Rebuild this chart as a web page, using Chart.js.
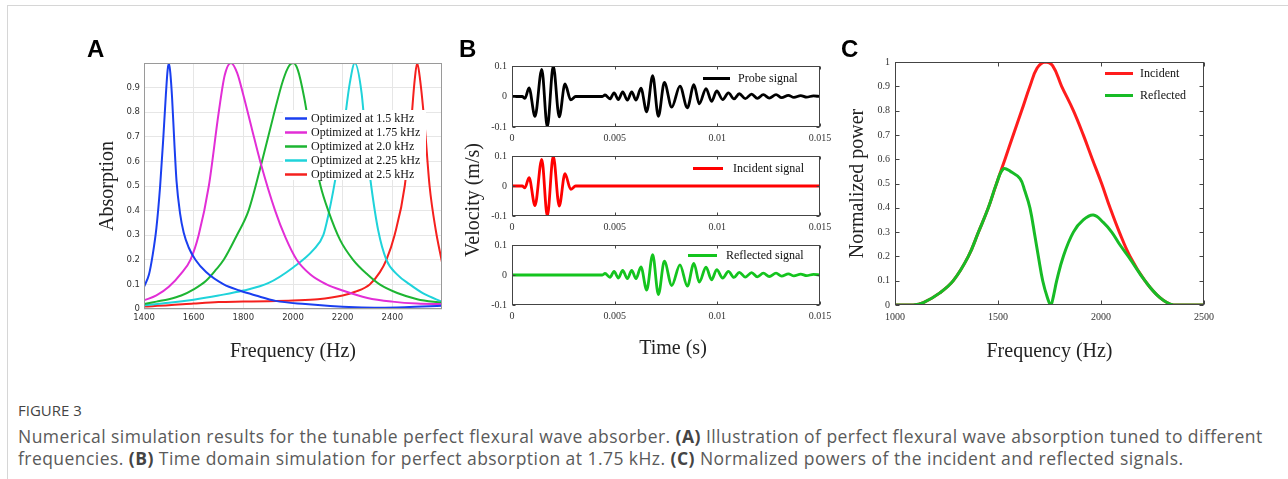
<!DOCTYPE html>
<html>
<head>
<meta charset="utf-8">
<script src="https://cdn.jsdelivr.net/npm/chart.js@4.4.0/dist/chart.umd.min.js"></script>
<style>
  html, body { margin: 0; padding: 0; background: #fff; }
  body { width: 1288px; height: 479px; position: relative; overflow: hidden; }
  .frame { position: absolute; left: 7px; top: 5px; right: 0; bottom: 0; border-top: 1px solid #d6d6d6; border-left: 1px solid #d6d6d6; }
  canvas { position: absolute; }
  .panel { position: absolute; font: bold 24px "Liberation Sans", Arial, sans-serif; line-height: 24px; color: #000; z-index: 2; }
  .axt { position: absolute; font: 20px "Liberation Serif", "Times New Roman", serif; color: #222; white-space: nowrap; line-height: 20px; }
  .figno { position: absolute; left: 18px; top: 399px; font: 15px "Open Sans", sans-serif; line-height: 22px; color: #444; }
  .cap { position: absolute; left: 18px; top: 425px; font: 17.5px "Open Sans", sans-serif; letter-spacing: 0.45px; line-height: 22px; color: #5a5a5a; white-space: nowrap; }
  .cap b { color: #444; }
</style>
</head>
<body>
<div class="frame"></div>

<canvas id="chartA" width="380" height="330" style="left:80px;top:40px"></canvas>
<canvas id="chartB1" width="365" height="98" style="left:475px;top:55px"></canvas>
<canvas id="chartB2" width="365" height="97" style="left:475px;top:145px"></canvas>
<canvas id="chartB3" width="365" height="97" style="left:475px;top:234px"></canvas>
<canvas id="chartC" width="390" height="330" style="left:840px;top:40px"></canvas>

<div class="panel" style="left:87px;top:37px">A</div>
<div class="panel" style="left:459px;top:37px">B</div>
<div class="panel" style="left:841px;top:37px">C</div>

<div class="axt" style="left:412px;top:190px;transform:rotate(-90deg);transform-origin:60px 10px;width:120px;text-align:center">Velocity (m/s)</div>
<div class="axt" style="left:623px;top:337px;width:100px;text-align:center">Time (s)</div>

<div class="figno">FIGURE 3</div>
<div class="cap">Numerical simulation results for the tunable perfect flexural wave absorber. <b>(A)</b> Illustration of perfect flexural wave absorption tuned to different<br>frequencies. <b>(B)</b> Time domain simulation for perfect absorption at 1.75 kHz. <b>(C)</b> Normalized powers of the incident and reflected signals.</div>

<script>
// ---- Panel A : absorption vs frequency ----
const ticksAx = [1400, 1600, 1800, 2000, 2200, 2400];
const ticksAy = [0, 0.1, 0.2, 0.3, 0.4, 0.5, 0.6, 0.7, 0.8, 0.9];
const labelsA = ["Optimized at 1.5 kHz", "Optimized at 1.75 kHz", "Optimized at 2.0 kHz", "Optimized at 2.25 kHz", "Optimized at 2.5 kHz"];

const freqA1 = [1400, 1420, 1435, 1450, 1465, 1478, 1488, 1495, 1500, 1506, 1513, 1522, 1531, 1545, 1560, 1580, 1607, 1650, 1721, 1785, 1850, 1930, 2050, 2150, 2250, 2350, 2450, 2600];
const absA1 = [0.09, 0.14, 0.22, 0.33, 0.5, 0.7, 0.87, 0.97, 1.0, 0.96, 0.86, 0.68, 0.52, 0.39, 0.31, 0.25, 0.2, 0.15, 0.1, 0.075, 0.055, 0.033, 0.02, 0.012, 0.007, 0.005, 0.007, 0.013];

const freqA2 = [1400, 1450, 1500, 1550, 1587, 1620, 1661, 1701, 1725, 1750, 1775, 1800, 1835, 1868, 1928, 1970, 2015, 2070, 2135, 2200, 2300, 2400, 2500, 2600];
const absA2 = [0.035, 0.055, 0.09, 0.145, 0.2, 0.3, 0.5, 0.8, 0.95, 1.0, 0.96, 0.87, 0.73, 0.6, 0.4, 0.29, 0.2, 0.14, 0.1, 0.075, 0.045, 0.03, 0.022, 0.02];

const freqA3 = [1400, 1450, 1500, 1550, 1600, 1650, 1690, 1721, 1774, 1821, 1875, 1920, 1960, 1985, 2002, 2020, 2045, 2075, 2111, 2142, 2190, 2242, 2300, 2349, 2420, 2500, 2600];
const absA3 = [0.02, 0.03, 0.04, 0.055, 0.08, 0.115, 0.16, 0.2, 0.3, 0.4, 0.6, 0.78, 0.93, 0.99, 1.0, 0.97, 0.86, 0.68, 0.5, 0.4, 0.28, 0.2, 0.14, 0.1, 0.065, 0.04, 0.025];

const freqA4 = [1400, 1500, 1600, 1700, 1800, 1900, 2002, 2082, 2122, 2142, 2162, 2202, 2229, 2249, 2276, 2296, 2315, 2343, 2376, 2420, 2470, 2530, 2600];
const absA4 = [0.015, 0.025, 0.038, 0.055, 0.075, 0.105, 0.17, 0.24, 0.3, 0.38, 0.48, 0.72, 0.92, 1.0, 0.88, 0.66, 0.5, 0.32, 0.2, 0.14, 0.1, 0.06, 0.03];

const freqA5 = [1400, 1500, 1600, 1700, 1800, 1900, 2000, 2100, 2200, 2250, 2309, 2350, 2376, 2409, 2450, 2475, 2490, 2500, 2512, 2530, 2550, 2575, 2600];
const absA5 = [0.01, 0.015, 0.022, 0.028, 0.03, 0.032, 0.035, 0.04, 0.055, 0.07, 0.1, 0.15, 0.2, 0.3, 0.5, 0.75, 0.93, 1.0, 0.93, 0.75, 0.5, 0.32, 0.19];

// ---- Panel B : time signals (extrema of the waveforms) ----
const ticksBx = [0, 0.005, 0.01, 0.015];
const ticksBy = [-0.1, 0, 0.1];
const pulseT = [0, 0.0005, 0.00063, 0.00083, 0.00112, 0.00145, 0.00172, 0.00201, 0.0023, 0.00258, 0.00286, 0.0031];
const pulseV = [0, 0, -0.006, 0.028, -0.065, 0.089, -0.1, 0.1, -0.067, 0.041, -0.011, 0];
const echoT = [0.0044, 0.00453, 0.00477, 0.00497, 0.00518, 0.00539, 0.00562, 0.00583, 0.00604, 0.00628, 0.00656, 0.00685, 0.00713, 0.00742, 0.00778, 0.00818, 0.00854, 0.00886, 0.00912, 0.00945, 0.00972, 0.00997, 0.01026, 0.01054, 0.01081, 0.01107, 0.01136, 0.01167, 0.01195, 0.01224, 0.01253, 0.01286, 0.01313, 0.01346, 0.01373, 0.01406, 0.01435, 0.01468, 0.015];
const echoV = [0, 0.005, -0.008, 0.012, -0.01, 0.015, -0.012, 0.015, -0.012, 0.027, -0.05, 0.068, -0.065, 0.046, -0.035, 0.034, -0.037, 0.039, -0.024, 0.026, -0.016, 0.018, -0.01, 0.012, -0.008, 0.009, -0.007, 0.008, -0.006, 0.006, -0.005, 0.006, -0.004, 0.004, -0.003, 0.003, -0.002, 0.002, 0];

// ---- Panel C : normalized power spectra ----
const ticksCx = [1000, 1500, 2000, 2500];
const ticksCy = [0, 0.1, 0.2, 0.3, 0.4, 0.5, 0.6, 0.7, 0.8, 0.9, 1];
const freqInc = [1000, 1089, 1138, 1218, 1283, 1356, 1405, 1453, 1493, 1534, 1574, 1615, 1655, 1690, 1728, 1765, 1809, 1866, 1914, 1958, 2003, 2044, 2089, 2141, 2213, 2286, 2351, 2500];
const powInc = [0, 0, 0.01, 0.05, 0.1, 0.2, 0.3, 0.4, 0.5, 0.6, 0.7, 0.8, 0.9, 0.975, 1.0, 0.985, 0.9, 0.8, 0.7, 0.6, 0.5, 0.4, 0.3, 0.2, 0.1, 0.03, 0, 0];
const freqRef = [1000, 1089, 1138, 1218, 1283, 1356, 1405, 1453, 1493, 1526, 1560, 1607, 1630, 1655, 1680, 1696, 1717, 1740, 1756, 1770, 1785, 1817, 1866, 1914, 1963, 2011, 2052, 2090, 2141, 2213, 2286, 2351, 2500];
const powRef = [0, 0, 0.01, 0.05, 0.1, 0.2, 0.3, 0.4, 0.5, 0.56, 0.55, 0.52, 0.47, 0.4, 0.28, 0.2, 0.1, 0.03, 0, 0.04, 0.1, 0.2, 0.3, 0.35, 0.37, 0.34, 0.3, 0.25, 0.19, 0.1, 0.03, 0, 0];

// helpers
const xy = (xs, ys) => xs.map((x, i) => ({ x: x, y: ys[i] }));
const fixTicks = vals => scale => { scale.ticks = vals.map(v => ({ value: v })); };
const num = v => String(+Number(v).toFixed(4));
const serif = '"Liberation Serif", "Times New Roman", serif';

// box + inward tick marks (matlab style axes)
const boxAxes = {
  id: "boxAxes",
  afterDatasetsDraw(chart, args, opts) {
    const { ctx, chartArea: a, scales } = chart;
    ctx.save();
    ctx.strokeStyle = opts.color || "#333";
    ctx.lineWidth = 1;
    const L = Math.round(a.left) + 0.5, T = Math.round(a.top) + 0.5;
    const R = Math.round(a.right) - 0.5, B = Math.round(a.bottom) - 0.5;
    ctx.strokeRect(L, T, R - L, B - T);
    const len = opts.tick || 0;
    if (len) {
      ctx.beginPath();
      scales.x.ticks.forEach(t => {
        const px = Math.round(scales.x.getPixelForValue(t.value)) + 0.5;
        ctx.moveTo(px, B); ctx.lineTo(px, B - len);
        ctx.moveTo(px, T); ctx.lineTo(px, T + len);
      });
      scales.y.ticks.forEach(t => {
        const py = Math.round(scales.y.getPixelForValue(t.value)) + 0.5;
        ctx.moveTo(L, py); ctx.lineTo(L + len, py);
        ctx.moveTo(R, py); ctx.lineTo(R - len, py);
      });
      ctx.stroke();
    }
    ctx.restore();
  }
};

// simple in-plot legend: line sample + label
const lineLegend = {
  id: "lineLegend",
  afterDatasetsDraw(chart, args, opts) {
    const { ctx, chartArea: a } = chart;
    ctx.save();
    if (opts.bg) {
      ctx.fillStyle = "#fff";
      ctx.fillRect(a.left + opts.bg[0], a.top + opts.bg[1], opts.bg[2], opts.bg[3]);
    }
    ctx.font = opts.font;
    ctx.textBaseline = "middle";
    ctx.textAlign = "left";
    chart.data.datasets.forEach((ds, i) => {
      const y = Math.round(a.top + opts.y + i * (opts.rowH || 0)) + 0.5;
      const x0 = a.left + opts.x;
      ctx.strokeStyle = ds.borderColor;
      ctx.lineWidth = opts.lineW;
      ctx.beginPath();
      ctx.moveTo(x0, y);
      ctx.lineTo(x0 + opts.lineLen, y);
      ctx.stroke();
      ctx.fillStyle = "#111";
      ctx.fillText(ds.label, x0 + opts.lineLen + opts.gap, y + 0.5);
    });
    ctx.restore();
  }
};

const baseOpts = {
  responsive: false,
  animation: false,
  devicePixelRatio: 1,
  events: [],
  elements: { point: { radius: 0 }, line: { cubicInterpolationMode: "monotone" } },
};

function lineSet(label, xs, ys, color, width) {
  return { label: label, data: xy(xs, ys), borderColor: color, backgroundColor: color, borderWidth: width, fill: false };
}

// ---------- A ----------
const colorsA = ["#1a3ff0", "#e22ed6", "#1db532", "#1fd3da", "#f5201e"];
new Chart(document.getElementById("chartA"), {
  type: "line",
  data: {
    datasets: [
      lineSet(labelsA[0], freqA1, absA1, colorsA[0], 2),
      lineSet(labelsA[1], freqA2, absA2, colorsA[1], 2),
      lineSet(labelsA[2], freqA3, absA3, colorsA[2], 2),
      lineSet(labelsA[3], freqA4, absA4, colorsA[3], 2),
      lineSet(labelsA[4], freqA5, absA5, colorsA[4], 2),
    ],
  },
  options: {
    ...baseOpts,
    layout: { padding: { left: 0, top: 23, right: 18, bottom: 0 } },
    plugins: {
      legend: { display: false },
      tooltip: { enabled: false },
      boxAxes: { color: "#9a9a9a", tick: 0 },
      lineLegend: { x: 141, y: 55, rowH: 14, lineLen: 22, gap: 4, lineW: 2.5, font: "12px " + serif, bg: [139, 47, 143, 70] },
    },
    scales: {
      x: {
        type: "linear", min: 1400, max: 2600,
        afterBuildTicks: fixTicks(ticksAx),
        afterFit: s => { s.height = 61; },
        grid: { color: "#e6e6e6", drawTicks: false },
        border: { display: false },
        ticks: { padding: 4, color: "#333", autoSkip: false, maxRotation: 0, font: { family: "DejaVu Sans", size: 8.5 }, callback: v => String(v) },
        title: { display: true, text: "Frequency (Hz)", color: "#222", font: { family: serif, size: 20, lineHeight: 1 }, padding: { top: 0, bottom: 8 } },
      },
      y: {
        type: "linear", min: 0, max: 1,
        afterBuildTicks: fixTicks(ticksAy),
        afterFit: s => { s.width = 64; },
        grid: { color: "#e6e6e6", drawTicks: false },
        border: { display: false },
        ticks: { padding: 4, color: "#333", autoSkip: false, font: { family: "DejaVu Sans", size: 8.5 }, callback: num },
        title: { display: true, text: "Absorption", color: "#222", font: { family: serif, size: 20, lineHeight: 1 }, padding: { top: 18, bottom: 0 } },
      },
    },
  },
  plugins: [boxAxes, lineLegend],
});

// ---------- B ----------
function signalChart(id, label, xs, ys, color, leg) {
  return new Chart(document.getElementById(id), {
    type: "line",
    data: { datasets: [lineSet(label, xs, ys, color, 2.8)] },
    options: {
      ...baseOpts,
      layout: { padding: { left: 0, top: 8, right: 20, bottom: 8 } },
      plugins: {
        legend: { display: false },
        tooltip: { enabled: false },
        boxAxes: { color: "#444", tick: 3 },
        lineLegend: { x: leg.x, y: leg.y, lineLen: leg.len, gap: leg.gap, lineW: 3, font: "12px " + serif },
      },
      scales: {
        x: {
          type: "linear", min: 0, max: 0.015,
          afterBuildTicks: fixTicks(ticksBx),
          afterFit: s => { s.height = 18; },
          grid: { display: false, drawTicks: false },
          border: { display: false },
          ticks: { padding: 5, color: "#333", autoSkip: false, maxRotation: 0, font: { family: serif, size: 10 }, callback: num },
        },
        y: {
          type: "linear", min: -0.1, max: 0.1,
          afterBuildTicks: fixTicks(ticksBy),
          afterFit: s => { s.width = 37; },
          grid: { display: false, drawTicks: false },
          border: { display: false },
          ticks: { padding: 5, color: "#333", autoSkip: false, font: { family: serif, size: 10 }, callback: num },
        },
      },
    },
    plugins: [boxAxes, lineLegend],
  });
}

const probeT = pulseT.concat(echoT), probeV = pulseV.concat(echoV);
signalChart("chartB1", "Probe signal", probeT, probeV, "#000000", { x: 191, y: 12, len: 27, gap: 8 });
signalChart("chartB2", "Incident signal", pulseT.concat([0.015]), pulseV.concat([0]), "#ff0000", { x: 181, y: 12, len: 30, gap: 10 });
signalChart("chartB3", "Reflected signal", [0].concat(echoT), [0].concat(echoV), "#14c41e", { x: 176, y: 10, len: 29, gap: 9 });

// ---------- C ----------
const incSet = lineSet("Incident", freqInc, powInc, "#ff1c1c", 3);
incSet.order = 1; // green drawn over red
new Chart(document.getElementById("chartC"), {
  type: "line",
  data: {
    datasets: [incSet, lineSet("Reflected", freqRef, powRef, "#17bb26", 3)],
  },
  options: {
    ...baseOpts,
    elements: { point: { radius: 0 }, line: { cubicInterpolationMode: "default", tension: 0.4 } },
    layout: { padding: { left: 0, top: 22, right: 26, bottom: 0 } },
    plugins: {
      legend: { display: false },
      tooltip: { enabled: false },
      boxAxes: { color: "#444", tick: 4 },
      lineLegend: { x: 210, y: 11, rowH: 22, lineLen: 28, gap: 7, lineW: 3, font: "12px " + serif },
    },
    scales: {
      x: {
        type: "linear", min: 1000, max: 2500,
        afterBuildTicks: fixTicks(ticksCx),
        afterFit: s => { s.height = 65; },
        grid: { display: false, drawTicks: false },
        border: { display: false },
        ticks: { padding: 6, color: "#333", autoSkip: false, maxRotation: 0, font: { family: serif, size: 10 }, callback: num },
        title: { display: true, text: "Frequency (Hz)", color: "#222", font: { family: serif, size: 20, lineHeight: 1 }, padding: { top: 0, bottom: 8 } },
      },
      y: {
        type: "linear", min: 0, max: 1,
        afterBuildTicks: fixTicks(ticksCy),
        afterFit: s => { s.width = 55; },
        grid: { display: false, drawTicks: false },
        border: { display: false },
        ticks: { padding: 5, color: "#333", autoSkip: false, font: { family: serif, size: 10 }, callback: num },
        title: { display: true, text: "Normalized power", color: "#222", font: { family: serif, size: 20, lineHeight: 1 }, padding: { top: 8, bottom: 0 } },
      },
    },
  },
  plugins: [boxAxes, lineLegend],
});
</script>
</body>
</html>
